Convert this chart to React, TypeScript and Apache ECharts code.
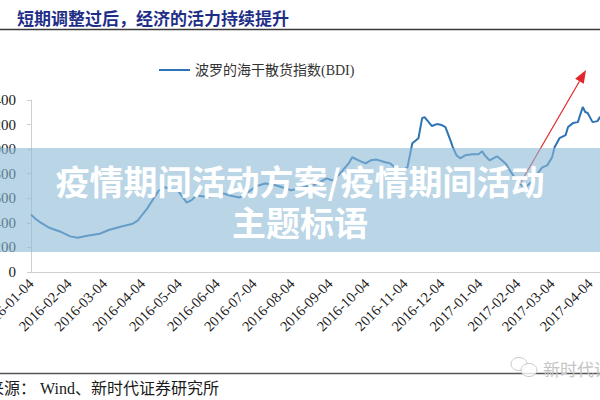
import React, { useEffect, useRef } from "react";
import * as echarts from "echarts";

const chartTitle = "短期调整过后，经济的活力持续提升";
const legendName = "波罗的海干散货指数(BDI)";
const bannerLine1 = "疫情期间活动方案/疫情期间活动";
const bannerLine2 = "主题标语";
const sourceText = "来源： Wind、新时代证券研究所";
const watermarkText = "新时代证券";

const axisStart = "2016-01-04";
const axisEnd = "2017-04-30";
const yTicks = [0, 200, 400, 600, 800, 1000, 1200, 1400];

const readDates = [
  "2016-01-04", "2016-01-08", "2016-01-12", "2016-01-19", "2016-01-28", "2016-02-05", "2016-02-11",
  "2016-02-19", "2016-02-29", "2016-03-08", "2016-03-17", "2016-03-27", "2016-03-31", "2016-04-04",
  "2016-04-08", "2016-04-13", "2016-04-17", "2016-04-22", "2016-04-27", "2016-05-02", "2016-05-06",
  "2016-05-10", "2016-05-14", "2016-05-18", "2016-05-27", "2016-06-03", "2016-06-09", "2016-06-15",
  "2016-06-22", "2016-06-29", "2016-07-06", "2016-07-13", "2016-07-20", "2016-07-27", "2016-08-03",
  "2016-08-10", "2016-08-17", "2016-08-24", "2016-09-01", "2016-09-06", "2016-09-12", "2016-09-19",
  "2016-09-22", "2016-09-28", "2016-10-03", "2016-10-07", "2016-10-12", "2016-10-19", "2016-10-23",
  "2016-10-28", "2016-11-02", "2016-11-06", "2016-11-10", "2016-11-15", "2016-11-18", "2016-11-20",
  "2016-11-26", "2016-11-30", "2016-12-04", "2016-12-07", "2016-12-11", "2016-12-13", "2016-12-16",
  "2016-12-19", "2016-12-23", "2016-12-29", "2017-01-03", "2017-01-06", "2017-01-08", "2017-01-12",
  "2017-01-15", "2017-01-18", "2017-01-22", "2017-01-25", "2017-01-31", "2017-02-05", "2017-02-10",
  "2017-02-16", "2017-02-20", "2017-02-24", "2017-02-28", "2017-03-04", "2017-03-06", "2017-03-10",
  "2017-03-15", "2017-03-17", "2017-03-21", "2017-03-25", "2017-03-29", "2017-03-31", "2017-04-02",
  "2017-04-06", "2017-04-10", "2017-04-12", "2017-04-18",
];

const bdiValues = [
  467, 430, 401, 360, 328, 290, 278,
  295, 311, 344, 369, 393, 418, 470,
  520, 598, 660, 690, 675, 670, 620,
  565, 585, 622, 610, 625, 639, 620,
  606, 650, 700, 720, 710, 690, 665,
  680, 700, 715, 762, 745, 800, 884,
  934, 905, 884, 909, 915, 893, 884,
  840, 830, 852, 1048, 1089, 1253, 1261,
  1188, 1204, 1196, 1180, 1073, 1016, 950,
  925, 950, 958, 958, 983, 950, 909,
  925, 942, 909, 884, 790, 720, 685,
  740, 800, 852, 868, 934, 1016, 1089,
  1114, 1180, 1212, 1220, 1343, 1302, 1294,
  1220, 1228, 1261, 1250,
];

function buildDays(start: string, end: string): string[] {
  const out: string[] = [];
  const d = new Date(start + "T00:00:00Z");
  const e = new Date(end + "T00:00:00Z");
  while (d.getTime() <= e.getTime()) {
    out.push(d.toISOString().slice(0, 10));
    d.setUTCDate(d.getUTCDate() + 1);
  }
  return out;
}

export default function App() {
  const ref = useRef<HTMLDivElement>(null);

  useEffect(() => {
    if (!ref.current) return;
    const chart = echarts.init(ref.current, undefined, { renderer: "svg" });
    const days = buildDays(axisStart, axisEnd);
    const seriesData = readDates.map((d, i) => [days.indexOf(d), bdiValues[i]]);
    const isMonthTick = (_i: number, v: string) => v.slice(8, 10) === "04";

    // arrow geometry (annotation)
    const tip = [586, 70];
    const tail = [521, 182];
    const dx = tip[0] - tail[0];
    const dy = tip[1] - tail[1];
    const len = Math.sqrt(dx * dx + dy * dy);
    const ux = dx / len;
    const uy = dy / len;
    const hl = 13;
    const hw = 5;
    const bx = tip[0] - ux * hl;
    const by = tip[1] - uy * hl;

    chart.setOption({
      animation: false,
      backgroundColor: "#ffffff",
      textStyle: { fontFamily: "Liberation Serif, Noto Sans CJK SC" },
      grid: {
        left: 31,
        right: -22,
        top: 100,
        bottom: 128,
        containLabel: false,
        outerBoundsMode: "none",
      },
      legend: {
        show: true,
        left: 154,
        top: 58,
        icon: "rect",
        itemWidth: 31,
        itemHeight: 2,
        itemGap: 10,
        textStyle: {
          fontSize: 14,
          color: "#333333",
          fontFamily: "Liberation Serif, Noto Sans CJK SC",
        },
        data: [legendName],
      },
      xAxis: {
        type: "category",
        data: days,
        boundaryGap: false,
        axisLine: { show: true, lineStyle: { color: "#d0d0d0", width: 1 } },
        axisTick: { show: false },
        splitLine: { show: false },
        axisLabel: {
          interval: isMonthTick,
          rotate: 45,
          margin: 9,
          fontSize: 14.5,
          color: "#1a1a1a",
          fontFamily: "Liberation Serif",
        },
      },
      yAxis: {
        type: "value",
        min: yTicks[0],
        max: yTicks[yTicks.length - 1],
        interval: yTicks[1] - yTicks[0],
        axisLine: { show: true, lineStyle: { color: "#cfcfcf", width: 1 } },
        axisTick: { show: true, length: 4, lineStyle: { color: "#cfcfcf" } },
        splitLine: { show: false },
        axisLabel: {
          margin: 15,
          fontSize: 15,
          color: "#1a1a1a",
          fontFamily: "Liberation Serif",
          formatter: (v: number) => String(v),
        },
      },
      series: [
        {
          name: legendName,
          type: "line",
          data: seriesData,
          showSymbol: false,
          symbol: "none",
          smooth: false,
          lineStyle: { color: "#2e74b5", width: 2 },
          itemStyle: { color: "#2e74b5" },
          z: 2,
        },
      ],
      graphic: [
        {
          type: "text",
          x: 17,
          y: 17,
          z: 10,
          style: {
            text: chartTitle,
            fill: "#1f2f88",
            fontSize: 17,
            fontWeight: "bold",
            fontFamily: "Noto Sans CJK SC",
            textVerticalAlign: "middle",
          },
        },
        {
          type: "line",
          z: 10,
          shape: { x1: 0, y1: 29.5, x2: 600, y2: 29.5 },
          style: { stroke: "#3a3a3a", lineWidth: 1.5 },
        },
        {
          type: "line",
          z: 20,
          shape: { x1: tail[0], y1: tail[1], x2: bx, y2: by },
          style: { stroke: "#e3262b", lineWidth: 1.2 },
        },
        {
          type: "polygon",
          z: 20,
          shape: {
            points: [
              [tip[0], tip[1]],
              [bx - uy * hw, by + ux * hw],
              [bx + uy * hw, by - ux * hw],
            ],
          },
          style: { fill: "#e3262b" },
        },
        {
          type: "rect",
          z: 100,
          shape: { x: 0, y: 148, width: 600, height: 104 },
          style: { fill: "rgba(138,185,213,0.6)" },
        },
        {
          type: "text",
          x: 300,
          y: 180,
          z: 101,
          style: {
            text: bannerLine1,
            fill: "#ffffff",
            fontSize: 34,
            fontWeight: "bold",
            fontFamily: "Noto Sans CJK SC",
            textAlign: "center",
            textVerticalAlign: "middle",
          },
        },
        {
          type: "text",
          x: 300,
          y: 221,
          z: 101,
          style: {
            text: bannerLine2,
            fill: "#ffffff",
            fontSize: 34,
            fontWeight: "bold",
            fontFamily: "Noto Sans CJK SC",
            textAlign: "center",
            textVerticalAlign: "middle",
          },
        },
        {
          type: "line",
          z: 10,
          shape: { x1: 0, y1: 373.5, x2: 600, y2: 373.5 },
          style: { stroke: "#555555", lineWidth: 1.5 },
        },
        {
          type: "text",
          x: -12,
          y: 388,
          z: 10,
          style: {
            text: sourceText,
            fill: "#1a1a1a",
            fontSize: 16,
            fontFamily: "Liberation Serif, Noto Sans CJK SC",
            textVerticalAlign: "middle",
          },
        },
        {
          type: "ellipse",
          z: 11,
          shape: { cx: 519, cy: 364, rx: 8, ry: 6.5 },
          style: { fill: "rgba(255,255,255,0.8)", stroke: "#c8c8c8", lineWidth: 1 },
        },
        {
          type: "ellipse",
          z: 12,
          shape: { cx: 529, cy: 370, rx: 8, ry: 6.5 },
          style: { fill: "rgba(255,255,255,0.8)", stroke: "#c8c8c8", lineWidth: 1 },
        },
        {
          type: "text",
          x: 543,
          y: 368,
          z: 12,
          style: {
            text: watermarkText,
            fill: "#c4c4c4",
            fontSize: 17,
            fontFamily: "Noto Sans CJK SC",
            textVerticalAlign: "middle",
          },
        },
      ],
    });
    return () => chart.dispose();
  }, []);

  return (
    <div
      ref={ref}
      style={{ position: "fixed", left: 0, top: 0, width: 600, height: 400, background: "#fff" }}
    />
  );
}
